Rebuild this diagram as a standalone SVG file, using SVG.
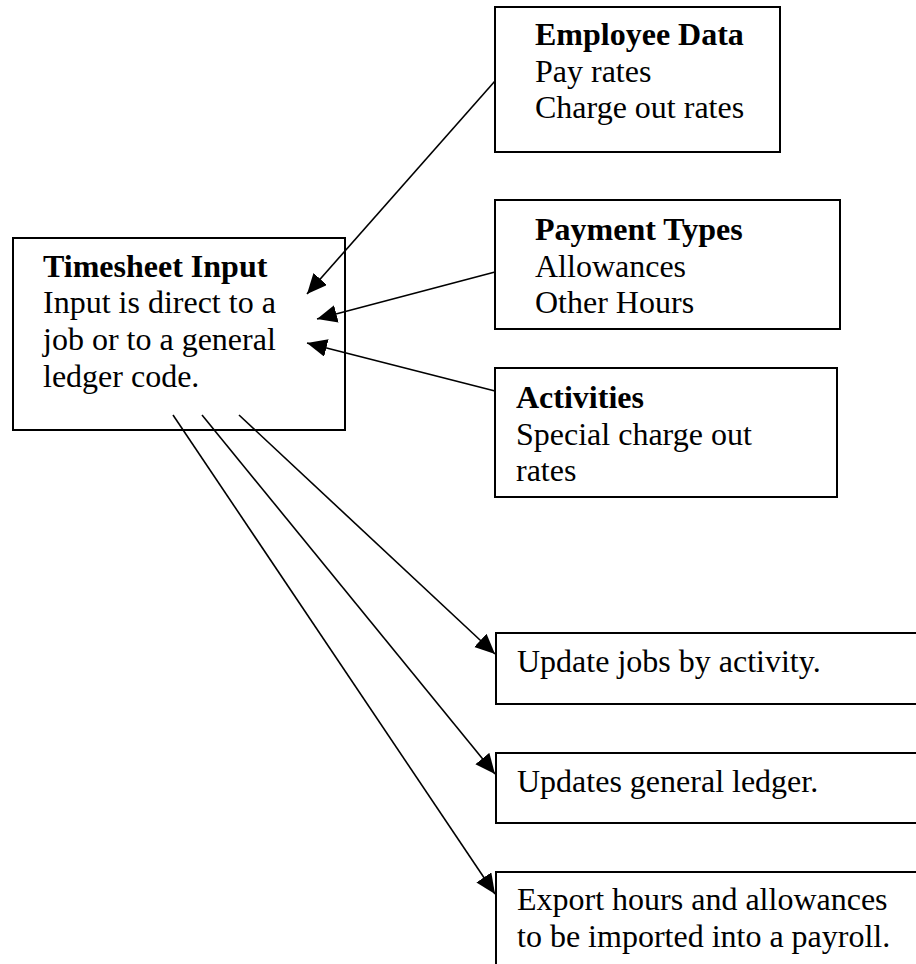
<svg xmlns="http://www.w3.org/2000/svg" width="916" height="964" viewBox="0 0 916 964">
  <style>
    .box { fill: #ffffff; stroke: #000000; stroke-width: 2; }
    .txt { font-family: "Liberation Serif", "Times New Roman", serif; font-size: 32px; fill: #000000; }
    .bold { font-weight: bold; }
    .link { fill: none; stroke: #000000; stroke-width: 1.6; marker-end: url(#head); }
  </style>
  <defs>
    <marker id="head" markerUnits="userSpaceOnUse" markerWidth="22" markerHeight="20" refX="20" refY="9" orient="auto">
      <path d="M0,0 L20,9 L0,18 Z" fill="#000000"/>
    </marker>
  </defs>

  <rect width="916" height="964" fill="#ffffff"/>

  <g id="timesheet-input">
    <rect class="box" x="13" y="238" width="332" height="192"/>
    <text class="txt bold" x="43" y="277">Timesheet Input</text>
    <text class="txt" x="43" y="313">Input is direct to a</text>
    <text class="txt" x="43" y="350">job or to a general</text>
    <text class="txt" x="43" y="387">ledger code.</text>
  </g>

  <g id="employee-data">
    <rect class="box" x="495" y="7" width="285" height="145"/>
    <text class="txt bold" x="535" y="45">Employee Data</text>
    <text class="txt" x="535" y="82">Pay rates</text>
    <text class="txt" x="535" y="118">Charge out rates</text>
  </g>

  <g id="payment-types">
    <rect class="box" x="495" y="200" width="345" height="129"/>
    <text class="txt bold" x="535" y="240">Payment Types</text>
    <text class="txt" x="535" y="277">Allowances</text>
    <text class="txt" x="535" y="313">Other Hours</text>
  </g>

  <g id="activities">
    <rect class="box" x="495" y="368" width="342" height="129"/>
    <text class="txt bold" x="516" y="408">Activities</text>
    <text class="txt" x="516" y="445">Special charge out</text>
    <text class="txt" x="516" y="481">rates</text>
  </g>

  <g id="update-jobs">
    <rect class="box" x="496" y="633" width="430" height="71"/>
    <text class="txt" x="517" y="672">Update jobs by activity.</text>
  </g>

  <g id="update-ledger">
    <rect class="box" x="496" y="753" width="430" height="70"/>
    <text class="txt" x="517" y="792">Updates general ledger.</text>
  </g>

  <g id="export-payroll">
    <rect class="box" x="496" y="872" width="430" height="110"/>
    <text class="txt" x="517" y="910">Export hours and allowances</text>
    <text class="txt" x="517" y="947">to be imported into a payroll.</text>
  </g>

  <g id="connectors">
    <line class="link" x1="495" y1="81" x2="307" y2="294"/>
    <line class="link" x1="495" y1="272" x2="317" y2="319"/>
    <line class="link" x1="495" y1="391" x2="307" y2="343"/>
    <line class="link" x1="239" y1="415" x2="495" y2="654"/>
    <line class="link" x1="202" y1="415" x2="495" y2="774"/>
    <line class="link" x1="173" y1="415" x2="495" y2="894"/>
  </g>
</svg>
